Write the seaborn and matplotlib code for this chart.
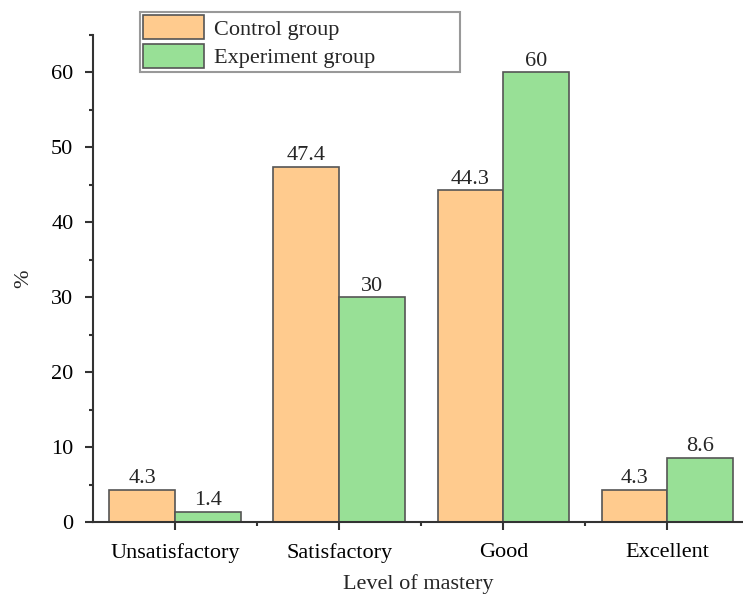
import matplotlib
matplotlib.use("Agg")
import matplotlib.pyplot as plt
import seaborn as sns
import pandas as pd
from matplotlib.ticker import MultipleLocator, FixedLocator

categories = ["Unsatisfactory", "Satisfactory", "Good", "Excellent"]
control = [4.3, 47.4, 44.3, 4.3]
experiment = [1.4, 30, 60, 8.6]
control_labels = ["4.3", "47.4", "44.3", "4.3"]
experiment_labels = ["1.4", "30", "60", "8.6"]
groups = ["Control group", "Experiment group"]

df = pd.DataFrame({
    "Level": categories * 2,
    "Value": control + experiment,
    "Group": [groups[0]] * 4 + [groups[1]] * 4,
})

sns.set_style("ticks")
plt.rcParams["font.family"] = ["Liberation Serif", "DejaVu Serif"]

FS = 16
fig = plt.figure(figsize=(7.43, 6.0), dpi=100)
ax = fig.add_axes([0.125, 0.13, 0.875, 0.8117])

palette = {groups[0]: "#FFCB8E", groups[1]: "#98E096"}
sns.barplot(data=df, x="Level", y="Value", hue="Group", order=categories,
            hue_order=groups, palette=palette, width=0.8, ax=ax,
            edgecolor="#555555", linewidth=1.2, saturation=1, legend=True)

labels_all = [control_labels, experiment_labels]
for cont, labs in zip(ax.containers, labels_all):
    ax.bar_label(cont, labels=labs, padding=1, fontsize=FS)

ax.set_xlim(-0.5, 3.46)
ax.set_ylim(0, 65)
ax.yaxis.set_major_locator(MultipleLocator(10))
ax.yaxis.set_minor_locator(MultipleLocator(5))
ax.xaxis.set_minor_locator(FixedLocator([0.5, 1.5, 2.5]))
ax.tick_params(axis="both", which="major", direction="out", length=6, width=1.5,
               labelsize=FS, colors="#333333", labelcolor="black")
ax.tick_params(axis="x", which="major", pad=9)
ax.tick_params(axis="y", which="major", pad=8)
ax.tick_params(axis="both", which="minor", direction="out", length=3, width=1.5,
               colors="#333333")
for side in ["top", "right"]:
    ax.spines[side].set_visible(False)
for side in ["left", "bottom"]:
    ax.spines[side].set_linewidth(1.5)
    ax.spines[side].set_color("#333333")

ax.set_xlabel("Level of mastery", fontsize=FS, labelpad=8)
ax.set_ylabel("%", fontsize=FS, labelpad=13)

leg = ax.legend(loc="upper left",
                bbox_to_anchor=(140 / 743, 1 - 78 / 600, 320 / 743, 66 / 600),
                bbox_transform=fig.transFigure, mode="expand", fontsize=FS,
                frameon=True, fancybox=False, edgecolor="#999999",
                handlelength=2.75, handleheight=1.25, handletextpad=0.45,
                borderpad=0.15, labelspacing=0.2, borderaxespad=0)
leg.get_frame().set_linewidth(1.5)
leg.get_frame().set_alpha(1)
for h in leg.legend_handles:
    h.set_edgecolor("#555555")

fig.savefig("out.png", dpi=100)
